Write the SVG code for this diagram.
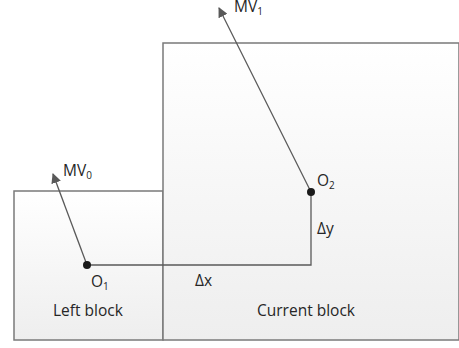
<svg xmlns="http://www.w3.org/2000/svg" width="459" height="348" viewBox="0 0 459 348">
<defs>
<linearGradient id="blk" x1="0" y1="0" x2="0" y2="1">
<stop offset="0" stop-color="#ffffff"/>
<stop offset="1" stop-color="#eeeeee"/>
</linearGradient>
<marker id="ah" viewBox="0 0 10 10" refX="9" refY="5" markerWidth="10" markerHeight="10" markerUnits="userSpaceOnUse" orient="auto">
<path d="M0,0 L10,5 L0,10 z" fill="#595959"/>
</marker>
<style>
.blk{fill:url(#blk);stroke:#7a7a7a;stroke-width:1.5}
.ln{fill:none;stroke:#595959;stroke-width:1.3}
.t{font-family:"Open Sans","Liberation Sans",sans-serif;font-size:15.5px;fill:#262626}
.s{font-size:10px}
.dot{fill:#1a1a1a}
</style>
</defs>
<rect width="459" height="348" fill="#ffffff"/>
<g id="left-block">
<rect class="blk" x="14" y="191" width="149" height="149"/>
<text class="t" x="53" y="316">Left block</text>
</g>
<g id="current-block">
<rect class="blk" x="163" y="43" width="296" height="297"/>
<text class="t" x="257" y="316">Current block</text>
</g>
<g id="connectors">
<path class="ln" d="M87,265 H311 V192"/>
<line class="ln" x1="87" y1="265" x2="53" y2="174" marker-end="url(#ah)"/>
<line class="ln" x1="311" y1="192" x2="219" y2="8" marker-end="url(#ah)"/>
</g>
<g id="o1">
<circle class="dot" cx="87" cy="265" r="4"/>
<text class="t" x="91" y="287">O<tspan class="s" dy="3">1</tspan></text>
</g>
<g id="o2">
<circle class="dot" cx="311" cy="192" r="4"/>
<text class="t" x="317" y="186">O<tspan class="s" dy="3">2</tspan></text>
</g>
<g id="mv0">
<text class="t" x="63" y="176">MV<tspan class="s" dy="3">0</tspan></text>
</g>
<g id="mv1">
<text class="t" x="234" y="12">MV<tspan class="s" dy="3">1</tspan></text>
</g>
<g id="dx">
<text class="t" x="195" y="286">Δx</text>
</g>
<g id="dy">
<text class="t" x="317" y="234">Δy</text>
</g>
</svg>
